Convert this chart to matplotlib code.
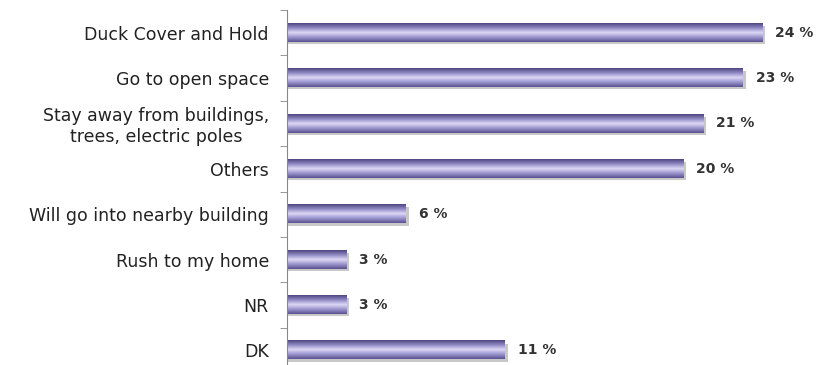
import matplotlib.pyplot as plt
import numpy as np
from matplotlib.colors import LinearSegmentedColormap

answers = ['Duck Cover and Hold', 'Go to open space',
           'Stay away from buildings,\ntrees, electric poles', 'Others',
           'Will go into nearby building', 'Rush to my home', 'NR', 'DK']
percent = [24, 23, 21, 20, 6, 3, 3, 11]

fig = plt.figure(figsize=(8.16, 3.65), dpi=100)
ax = fig.add_axes([287/816, -8/365, 1 - 287/816, 363/365])

# purple bar shading: dark edges, pale centre
cmap = LinearSegmentedColormap.from_list('bar', ['#4e4680', '#8f89c4', '#ddd9f5', '#9a94cc', '#5a5290'])
grad = np.linspace(0, 1, 64).reshape(-1, 1)

ypos = np.arange(len(answers))
h = 0.4
for y, v in zip(ypos, percent):
    # soft grey shadow under each bar
    ax.barh(y + 0.05, v + 0.15, height=h, color='#c8c8c8', zorder=1)
    ax.imshow(grad, cmap=cmap, aspect='auto', extent=(0, v, y + h/2, y - h/2),
              zorder=2, interpolation='bilinear')
    ax.text(v + 0.65, y, f'{v} %', va='center', ha='left', fontsize=10,
            color='#333333', fontweight='bold')

ax.set_xlim(0, 26.7)
ax.set_ylim(len(answers) - 0.5, -0.5)

ax.set_yticks(ypos)
ax.set_yticklabels(answers, fontsize=12.5, color='#222222', ha='right', multialignment='center')
ax.tick_params(axis='y', which='major', length=0, pad=13)
ax.set_yticks(np.arange(-0.5, len(answers) + 0.5, 1), minor=True)
ax.tick_params(axis='y', which='minor', length=5, color='#888888', direction='out')
ax.set_xticks([])

for s in ['top', 'right', 'bottom']:
    ax.spines[s].set_visible(False)
ax.spines['left'].set_color('#888888')

fig.savefig('out.png', dpi=100)
